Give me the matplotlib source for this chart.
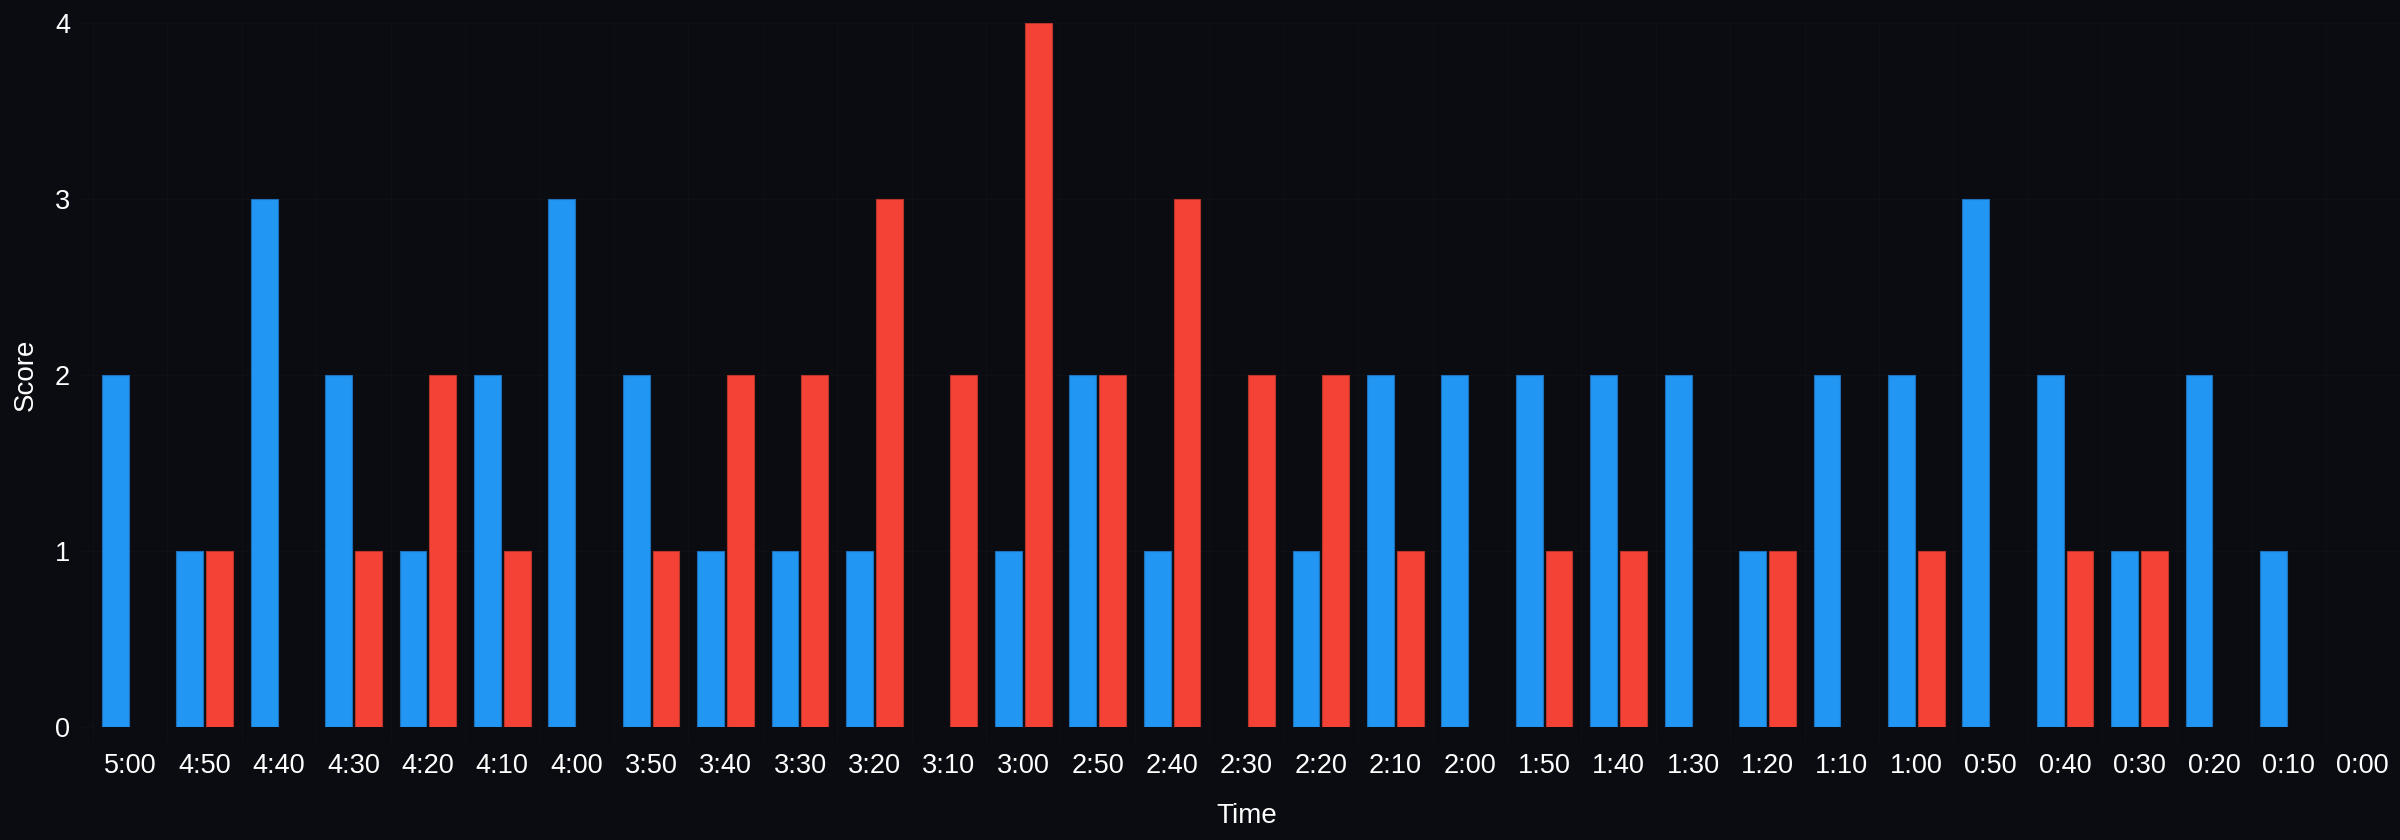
import numpy as np
import matplotlib
matplotlib.use("Agg")
import matplotlib.pyplot as plt

times = ["5:00", "4:50", "4:40", "4:30", "4:20", "4:10", "4:00", "3:50", "3:40", "3:30",
         "3:20", "3:10", "3:00", "2:50", "2:40", "2:30", "2:20", "2:10", "2:00", "1:50",
         "1:40", "1:30", "1:20", "1:10", "1:00", "0:50", "0:40", "0:30", "0:20", "0:10", "0:00"]
blue_scores = [2, 1, 3, 2, 1, 2, 3, 2, 1, 1, 1, 0, 1, 2, 1, 0, 1, 2, 2, 2,
               2, 2, 1, 2, 2, 3, 2, 1, 2, 1, 0]
red_scores = [0, 1, 0, 1, 2, 1, 0, 1, 2, 2, 3, 2, 4, 2, 3, 2, 2, 1, 0, 1,
              1, 0, 1, 0, 1, 0, 1, 1, 0, 0, 0]
y_ticks = [0, 1, 2, 3, 4]

BG = "#0a0c11"
GRID = "#0e1015"
BLUE = "#2196f3"
RED = "#f44336"

plt.rcParams["font.family"] = ["Liberation Sans", "DejaVu Sans"]

W, H = 2400, 840
fig = plt.figure(figsize=(24, 8.4), dpi=100, facecolor=BG)
left, right, top, bottom = 93, 2400, 22.7, 727
ax = fig.add_axes([left / W, 1 - bottom / H, (right - left) / W, (bottom - top) / H])
ax.set_facecolor(BG)

x = np.arange(len(times))
b = np.array(blue_scores, dtype=float)
r = np.array(red_scores, dtype=float)
b = np.where(b > 0, b, np.nan)
r = np.where(r > 0, r, np.nan)
bw = 0.36
ax.bar(x - 0.2, b, width=bw, color=BLUE, edgecolor="#1d6fb8", linewidth=0.8, zorder=3)
ax.bar(x + 0.2, r, width=bw, color=RED, edgecolor="#b8342b", linewidth=0.8, zorder=3)

ax.set_xlim(-0.5, len(times) - 0.5)
ax.set_ylim(0, 4)
ax.set_yticks(y_ticks)
ax.set_xticks(x)
ax.set_xticklabels(times)
ax.set_xticks(np.arange(len(times) + 1) - 0.5, minor=True)

for s in ax.spines.values():
    s.set_visible(False)

ax.grid(False)
for yv in y_ticks:
    ax.axhline(yv, color=GRID, linewidth=1.0, zorder=0)
ax.grid(True, which="minor", axis="x", color=GRID, linewidth=1.0, zorder=0)

ax.tick_params(axis="x", which="major", length=0, pad=19, labelsize=19.5, labelcolor="#ffffff")
ax.tick_params(axis="x", which="minor", length=11, color=GRID, width=1.0)
ax.tick_params(axis="y", which="major", length=11, color=GRID, width=1.0, pad=5.5,
               labelsize=19.5, labelcolor="#ffffff")

fig.text((left + right) / 2 / W, 1 - 823 / H, "Time", ha="center", va="baseline",
         fontsize=20, color="#ffffff")
fig.text(33 / W, 1 - ((top + bottom) / 2) / H, "Score", rotation=90, rotation_mode="anchor",
         ha="center", va="baseline", fontsize=20, color="#ffffff")

fig.savefig("out.png", dpi=100, facecolor=BG)
